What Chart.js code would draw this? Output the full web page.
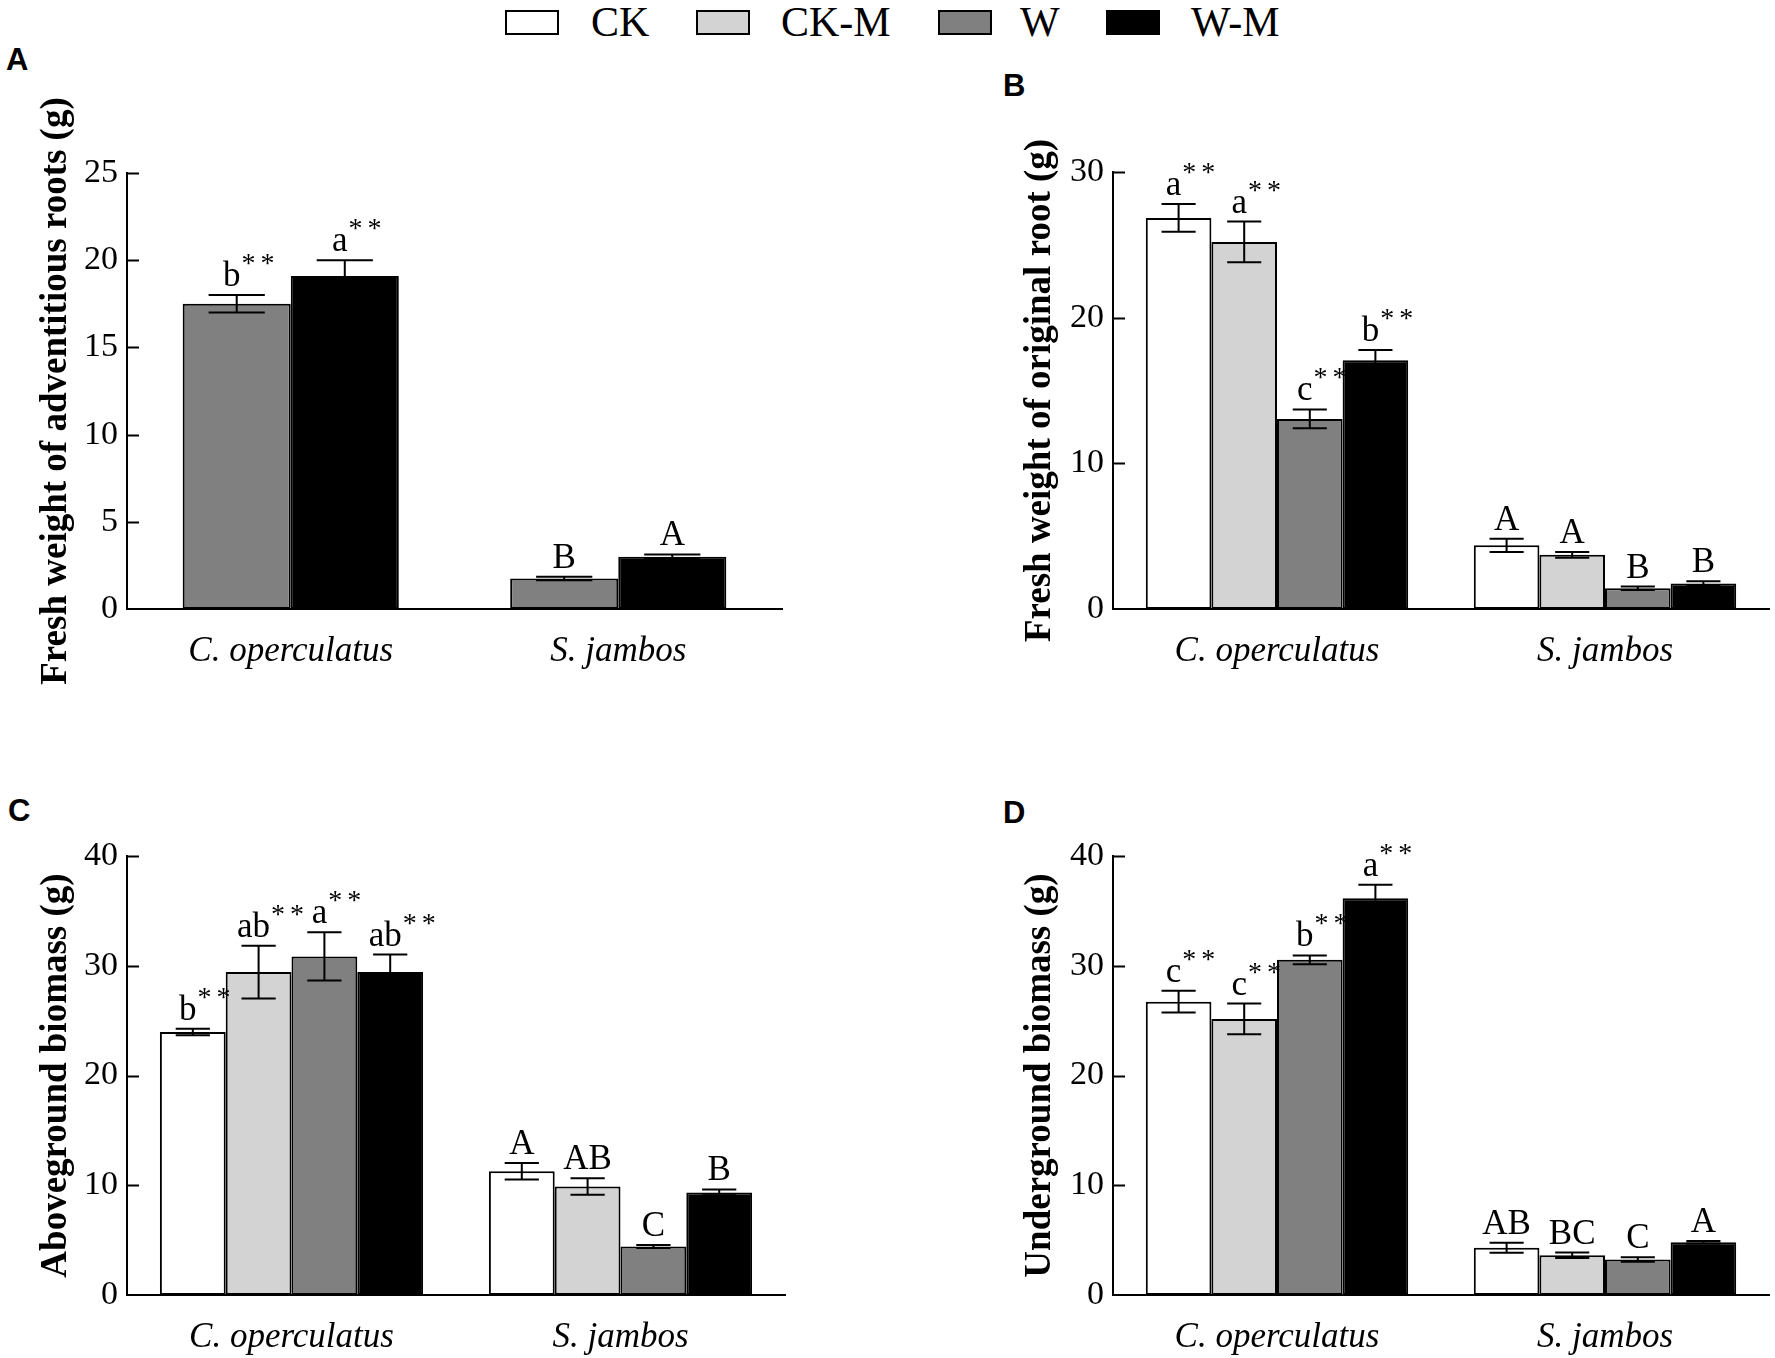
<!DOCTYPE html>
<html lang="en">
<head>
<meta charset="UTF-8">
<title>Biomass</title>
<style>
  body { margin: 0; padding: 0; background: #fff; width: 1775px; height: 1358px; overflow: hidden; position: relative; }
  canvas { position: absolute; }
  .tag { position: absolute; font-family: "Liberation Sans", Arial, sans-serif; font-weight: bold; font-size: 31px; line-height: 31px; color: #000; }
  .lbox { position: absolute; top: 10px; width: 50px; height: 21px; border: 2px solid #000; }
  .ltxt { position: absolute; top: 1px; font-family: "Liberation Serif", "Times New Roman", serif; font-size: 42px; line-height: 42px; color: #000; }
</style>
<script src="https://cdn.jsdelivr.net/npm/chart.js"></script>
</head>
<body>
  <!-- legend -->
  <div class="lbox" style="left:505px;background:#ffffff"></div><div class="ltxt" style="left:591px">CK</div>
  <div class="lbox" style="left:696px;background:#d3d3d3"></div><div class="ltxt" style="left:781px">CK-M</div>
  <div class="lbox" style="left:938px;background:#808080"></div><div class="ltxt" style="left:1020px">W</div>
  <div class="lbox" style="left:1106px;background:#000000"></div><div class="ltxt" style="left:1191px">W-M</div>

  <div class="tag" style="left:6px;top:44px">A</div>
  <div class="tag" style="left:1003px;top:70px">B</div>
  <div class="tag" style="left:8px;top:795px">C</div>
  <div class="tag" style="left:1003px;top:797px">D</div>

  <canvas id="chartA" width="887" height="660" style="left:0;top:40px"></canvas>
  <canvas id="chartB" width="888" height="660" style="left:887px;top:40px"></canvas>
  <canvas id="chartC" width="887" height="658" style="left:0;top:700px"></canvas>
  <canvas id="chartD" width="888" height="658" style="left:887px;top:700px"></canvas>

<script>
  const categories = ['C. operculatus', 'S. jambos'];
  const seriesNames = ['CK', 'CK-M', 'W', 'W-M'];
  const seriesColors = ['#ffffff', '#d3d3d3', '#808080', '#000000'];

  // A - fresh weight of adventitious roots (only W and W-M)
  const aW = [17.5, 1.75],   aWErr = [0.5, 0.1],   aWLab = ['b**', 'B'];
  const aWM = [19.1, 3.0],   aWMErr = [0.9, 0.13], aWMLab = ['a**', 'A'];

  // B - fresh weight of original root
  const bCK = [26.85, 4.37], bCKErr = [0.95, 0.45], bCKLab = ['a**', 'A'];
  const bCKM = [25.2, 3.72], bCKMErr = [1.4, 0.2],  bCKMLab = ['a**', 'A'];
  const bW = [13.05, 1.42],  bWErr = [0.65, 0.12],  bWLab = ['c**', 'B'];
  const bWM = [17.08, 1.75], bWMErr = [0.7, 0.15],  bWMLab = ['b**', 'B'];

  // C - aboveground biomass
  const cCK = [23.96, 11.27], cCKErr = [0.3, 0.75],  cCKLab = ['b**', 'A'];
  const cCKM = [29.42, 9.88], cCKMErr = [2.4, 0.75], cCKMLab = ['ab**', 'AB'];
  const cW = [30.85, 4.42],   cWErr = [2.2, 0.13],   cWLab = ['a**', 'C'];
  const cWM = [29.42, 9.35],  cWMErr = [1.6, 0.27],  cWMLab = ['ab**', 'B'];

  // D - underground biomass
  const dCK = [26.73, 4.31], dCKErr = [1.0, 0.45],  dCKLab = ['c**', 'AB'];
  const dCKM = [25.15, 3.62], dCKMErr = [1.4, 0.25], dCKMLab = ['c**', 'BC'];
  const dW = [30.54, 3.23],  dWErr = [0.4, 0.2],    dWLab = ['b**', 'C'];
  const dWM = [36.15, 4.81], dWMErr = [1.23, 0.12], dWMLab = ['a**', 'A'];

  const serif = '"Liberation Serif", "Times New Roman", serif';

  function ds(idx, data, errors, marks) {
    return {
      label: seriesNames[idx],
      data: data,
      errors: errors,
      marks: marks,
      backgroundColor: seriesColors[idx],
      borderColor: '#000',
      borderWidth: 2,
      borderSkipped: false
    };
  }

  // error bars + significance letters
  const errorBars = {
    id: 'errorBars',
    afterDatasetsDraw(chart) {
      const ctx = chart.ctx;
      const y = chart.scales.y;
      chart.data.datasets.forEach((set, i) => {
        const meta = chart.getDatasetMeta(i);
        meta.data.forEach((bar, j) => {
          const v = set.data[j], e = set.errors[j];
          const top = y.getPixelForValue(v + e);
          const low = y.getPixelForValue(v - e);
          const half = bar.width * 0.26;
          ctx.save();
          ctx.strokeStyle = '#000';
          ctx.lineWidth = 2;
          ctx.beginPath();
          ctx.moveTo(bar.x, top); ctx.lineTo(bar.x, low);
          ctx.moveTo(bar.x - half, top); ctx.lineTo(bar.x + half, top);
          ctx.moveTo(bar.x - half, low); ctx.lineTo(bar.x + half, low);
          ctx.stroke();

          const txt = set.marks[j];
          const star = txt.endsWith('**');
          const letter = star ? txt.slice(0, -2) : txt;
          ctx.fillStyle = '#000';
          ctx.font = '35px ' + serif;
          ctx.textBaseline = 'alphabetic';
          if (star) {
            const w = ctx.measureText(letter).width;
            const lx = bar.x - 5 - w / 2;
            ctx.textAlign = 'left';
            ctx.fillText(letter, lx, top - 9);
            ctx.font = '28px ' + serif;
            ctx.fillText('*', lx + w + 1, top - 23);
            ctx.fillText('*', lx + w + 20, top - 23);
          } else {
            ctx.textAlign = 'center';
            ctx.fillText(letter, bar.x, top - 9);
          }
          ctx.restore();
        });
      });
    }
  };

  // ticks pointing into the plot
  const inTicks = {
    id: 'inTicks',
    afterDraw(chart) {
      const ctx = chart.ctx;
      const y = chart.scales.y;
      const left = chart.chartArea.left;
      ctx.save();
      ctx.strokeStyle = '#000';
      ctx.lineWidth = 2;
      y.ticks.forEach(t => {
        if (t.value === 0) return;
        const py = Math.round(y.getPixelForValue(t.value)) + 0.5;
        ctx.beginPath();
        ctx.moveTo(left, py);
        ctx.lineTo(left + 12, py);
        ctx.stroke();
      });
      ctx.restore();
    }
  };

  function makePanel(id, datasets, yMax, step, title, catPct, box) {
    return new Chart(document.getElementById(id), {
      type: 'bar',
      data: { labels: categories, datasets: datasets },
      plugins: [errorBars, inTicks],
      options: {
        responsive: false,
        animation: false,
        devicePixelRatio: 1,
        layout: { padding: { left: box.padLeft, right: box.padRight, top: box.padTop, bottom: 0 } },
        datasets: { bar: { categoryPercentage: catPct, barPercentage: 1 } },
        plugins: { legend: { display: false }, tooltip: { enabled: false } },
        scales: {
          x: {
            grid: { display: false, drawTicks: false },
            border: { display: true, color: '#000', width: 2 },
            ticks: { color: '#000', padding: 22, font: { family: serif, size: 35, style: 'italic' } },
            afterFit: s => { s.height = box.xHeight; }
          },
          y: {
            min: 0,
            max: yMax,
            grid: { display: false, drawTicks: false },
            border: { display: true, color: '#000', width: 2 },
            ticks: { stepSize: step, color: '#000', padding: 9, font: { family: serif, size: 34 } },
            title: {
              display: true,
              text: title,
              color: '#000',
              padding: { top: box.titlePad, bottom: 0 },
              font: { family: serif, size: 37, weight: 'bold' }
            },
            afterFit: s => { s.width = 127; }
          }
        }
      }
    });
  }

  makePanel('chartA', [ds(2, aW, aWErr, aWLab), ds(3, aWM, aWMErr, aWMLab)],
    25, 5, 'Fresh weight of adventitious roots (g)', 0.66,
    { padLeft: 0, padRight: 105, padTop: 133, xHeight: 91, titlePad: 34 });

  makePanel('chartB', [ds(0, bCK, bCKErr, bCKLab), ds(1, bCKM, bCKMErr, bCKMLab),
                       ds(2, bW, bWErr, bWLab), ds(3, bWM, bWMErr, bWMLab)],
    30, 10, 'Fresh weight of original root (g)', 0.8,
    { padLeft: 99, padRight: 6, padTop: 132, xHeight: 91, titlePad: 32 });

  makePanel('chartC', [ds(0, cCK, cCKErr, cCKLab), ds(1, cCKM, cCKMErr, cCKMLab),
                       ds(2, cW, cWErr, cWLab), ds(3, cWM, cWMErr, cWMLab)],
    40, 10, 'Aboveground biomass (g)', 0.8,
    { padLeft: 0, padRight: 102, padTop: 156, xHeight: 63, titlePad: 34 });

  makePanel('chartD', [ds(0, dCK, dCKErr, dCKLab), ds(1, dCKM, dCKMErr, dCKMLab),
                       ds(2, dW, dWErr, dWLab), ds(3, dWM, dWMErr, dWMLab)],
    40, 10, 'Underground biomass (g)', 0.8,
    { padLeft: 99, padRight: 6, padTop: 156, xHeight: 63, titlePad: 32 });
</script>
</body>
</html>
